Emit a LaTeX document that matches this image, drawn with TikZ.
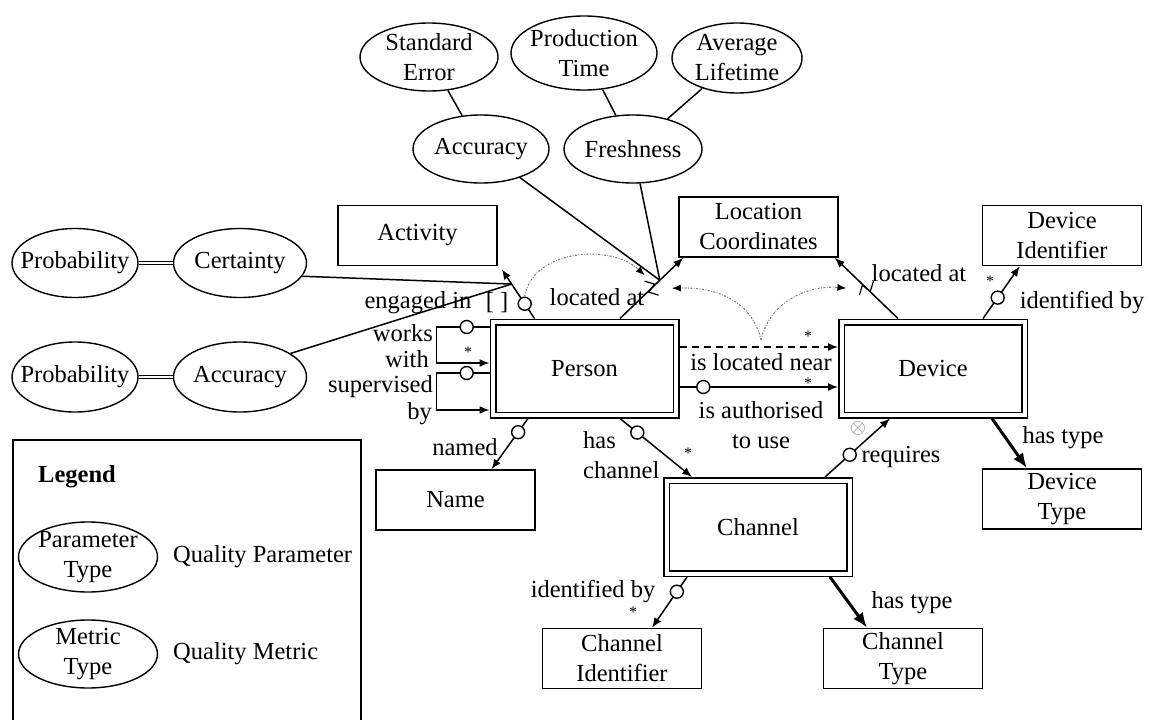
\documentclass[tikz,border=0pt]{standalone}
\usepackage{fontspec}
\setmainfont{Liberation Serif}
\usetikzlibrary{shapes.geometric,arrows.meta,calc}
\begin{document}
\begin{tikzpicture}[x=1pt,y=-1pt,
  font=\fontsize{24.5}{30}\selectfont,
  box/.style={draw, line width=1.6pt, rectangle, minimum width=159pt, minimum height=60pt, align=center, inner sep=2pt},
  ent/.style={draw, rectangle, double, double distance=4pt, line width=1.5pt, minimum width=183pt, minimum height=93pt, outer sep=3.5pt},
  ell/.style={draw, ellipse, line width=1.4pt, inner sep=0pt},
  ellt/.style={label={[align=center,inner sep=0pt]center:#1}},
  rel/.style={line width=1.5pt},
  tip/.style={-{Latex[length=10pt,width=8pt]}},
  thicktip/.style={line width=3pt, -{Latex[length=15pt,width=12pt]}},
  circ/.style={circle, draw, line width=1.4pt, fill=white, inner sep=0pt, minimum size=13pt},
  lbl/.style={inner sep=0pt},
  star/.style={font=\fontsize{16}{16}\selectfont, inner sep=0pt},
  derive/.style={gray, line width=1.1pt, dash pattern=on 2pt off 1.5pt on 0.8pt off 1.5pt, -{Latex[length=9pt,width=7pt,color=black]}},
  zz/.style={line width=1.2pt}
]
\useasboundingbox (0,0) rectangle (1149,720);

% quality ellipses
\node[ell, minimum width=138pt, minimum height=68pt, ellt={Standard\\Error}] (stderr) at (429,57) {};
\node[ell, minimum width=146pt, minimum height=74pt, ellt={Production\\Time}] (prodtime) at (584,53) {};
\node[ell, minimum width=130pt, minimum height=70pt, ellt={Average\\Lifetime}] (avglife) at (737,58) {};
\node[ell, minimum width=136pt, minimum height=68pt, ellt={Accuracy}] (acctop) at (481,149) {};
\node[ell, minimum width=138pt, minimum height=68pt, ellt={Freshness}] (fresh) at (633,149) {};
\node[ell, minimum width=126pt, minimum height=69pt, ellt={Probability}] (prob1) at (75,263) {};
\node[ell, minimum width=133pt, minimum height=69pt, ellt={Certainty}] (cert) at (240,263) {};
\node[ell, minimum width=126pt, minimum height=70pt, ellt={Probability}] (prob2) at (75,377) {};
\node[ell, minimum width=133pt, minimum height=70pt, ellt={Accuracy}] (accleft) at (240,377) {};

% boxes
\node[box] (activity) at (417.5,235.5) {Activity};
\node[box] (loc) at (758.5,227) {Location\\Coordinates};
\node[box] (devid) at (1062,235.5) {Device\\Identifier};
\node[box] (name) at (455.5,500) {Name};
\node[box] (devtype) at (1062,499) {Device\\Type};
\node[box] (chanid) at (622,658.5) {Channel\\Identifier};
\node[box] (chantype) at (903,658.5) {Channel\\Type};

% entities
\node[ent] (person) at (584.5,368.5) {Person};
\node[ent] (device) at (933,368.5) {Device};
\node[ent] (channel) at (758,527) {Channel};

% quality links
\draw[line width=1pt, double, double distance=2pt] (prob1) -- (cert);
\draw[line width=1pt, double, double distance=2pt] (prob2) -- (accleft);
\draw[rel] (stderr) -- (acctop);
\draw[rel] (prodtime) -- (fresh);
\draw[rel] (avglife) -- (fresh);

% engaged in
\draw[rel,tip] ($(person.north west)+(45,0)$) -- node[circ,pos=0.3] (c1) {} coordinate[pos=0.7] (eng) ($(activity.south east)+(4,3)$);
\draw[rel] (cert.-12) -- (eng);
\draw[rel] (accleft.25) -- (eng);

% located at (person)
\draw[rel,tip] ($(person.north)+(35.5,0)$) -- coordinate[pos=0.5] (zzL) coordinate[pos=0.63] (hubL) ($(loc.south west)+(5,0)$);
\draw[rel] (acctop) -- (hubL);
\draw[rel] (fresh) -- (hubL);
\draw[zz] ($(zzL)+(-7,-7)$) -- ($(zzL)+(3,-4)$) -- ($(zzL)+(-3,4)$) -- ($(zzL)+(7,7)$);

% located at (device)
\draw[rel,tip] ($(device.north)+(-35,0)$) -- coordinate[pos=0.5] (zzR) ($(loc.south east)+(-4,0)$);
\draw[zz] ($(zzR)+(-7,7)$) -- ($(zzR)+(-4,-3)$) -- ($(zzR)+(4,3)$) -- ($(zzR)+(7,-7)$);

% derivation (dotted)
\coordinate (vb) at (761,340);
\draw[derive] (c1.north) .. controls (532,250) and (610,243) .. ($(hubL)+(-15,-5)$);
\draw[derive] (vb) .. controls (752,300) and (715,287) .. ($(hubL)+(12,8)$);
\draw[derive] (vb) .. controls (770,300) and (810,285) .. ($(zzR)+(-20,0)$);

% person-device
\draw[rel, dash pattern=on 7pt off 5pt, tip] ($(person.east)+(0,-21.5)$) -- ($(device.west)+(0,-21.5)$);
\draw[rel, tip] ($(person.east)+(0,18.5)$) -- node[circ,pos=0.15] (c2) {} ($(device.west)+(0,18.5)$);

% device relations
\draw[rel,tip] ($(device.north)+(50,0)$) -- node[circ,pos=0.4] (c3) {} ($(devid.south west)+(38,0)$);
\draw[thicktip] ($(device.south)+(59,0)$) -- ($(devtype.north)+(-35,0)$);
\draw[rel,tip] ($(channel.north)+(67,0)$) -- node[circ,pos=0.38] (c4) {} ($(device.south)+(-43,0)$);

% person relations
\draw[rel,tip] ($(person.south)+(35.5,0)$) -- node[circ,pos=0.24] (c5) {} ($(channel.north)+(-66,0)$);
\draw[rel,tip] ($(person.south)+(-56.5,0)$) -- node[circ,pos=0.27] (c6) {} ($(name.north)+(36,0)$);

% channel relations
\draw[rel,tip] ($(channel.south)+(-71,0)$) -- node[circ,pos=0.29] (c7) {} ($(chanid.north)+(30,0)$);
\draw[thicktip] ($(channel.south)+(72,0)$) -- ($(chantype.north)+(-36,0)$);

% loops
\draw[rel,tip] ($(person.west)+(0,-41.5)$) -- node[circ,pos=0.43] (c8) {} ++(-53,0) -- ++(0,36) -- ($(person.west)+(0,-5.5)$);
\draw[rel,tip] ($(person.west)+(0,4.5)$) -- node[circ,pos=0.43] (c9) {} ++(-53,0) -- ++(0,37) -- ($(person.west)+(0,41.5)$);

% labels
\node[lbl] (lengaged) at (418,303) {engaged in};
\node[lbl] (lbrk) at (497,303) {[ ]};
\node[lbl, anchor=east] (lworks) at (433,333) {works};
\node[lbl, anchor=east] (lwith) at (429,359) {with};
\node[lbl, anchor=east] (lsup) at (433,387) {supervised};
\node[lbl, anchor=east] (lby) at (432,414) {by};
\node[lbl] (llocl) at (597,297) {located at};
\node[lbl] (llocr) at (919,273) {located at};
\node[lbl] (lidd) at (1082,303) {identified by};
\node[lbl] (lnear) at (761,362) {is located near};
\node[lbl, align=center] (lauth) at (761,425) {is authorised\\to use};
\node[lbl] (lhtd) at (1063,438) {has type};
\node[lbl] (lreq) at (901,457) {requires};
\node[lbl] (lnamed) at (465,447) {named};
\node[lbl, align=left, anchor=west] (lhasch) at (583,455) {has\\channel};
\node[lbl] (lidc) at (593,592) {identified by};
\node[lbl] (lhtc) at (912,603) {has type};

% multiplicities
\node[star] (s1) at (468,352) {*};
\node[star] (s2) at (808,336) {*};
\node[star] (s3) at (808,383) {*};
\node[star] (s4) at (990,281) {*};
\node[star] (s5) at (688,453) {*};
\node[star] (s6) at (633,612) {*};
\node[lbl, gray] (otimes) at (858,428) {\fontsize{20}{20}\selectfont$\otimes$};

% legend
\draw[line width=1.4pt] (13,730) -- (13,440) -- (361,440) -- (361,730);
\node[lbl, font=\fontsize{24.5}{30}\selectfont\bfseries] (leg) at (77,477) {Legend};
\node[ell, minimum width=139pt, minimum height=70pt, ellt={Parameter\\Type}] (lp) at (88,557) {};
\node[lbl, anchor=west] (lqp) at (173,557) {Quality Parameter};
\node[ell, minimum width=139pt, minimum height=68pt, ellt={Metric\\Type}] (lm) at (88,654) {};
\node[lbl, anchor=west] (lqm) at (173,654) {Quality Metric};
\end{tikzpicture}
\end{document}
